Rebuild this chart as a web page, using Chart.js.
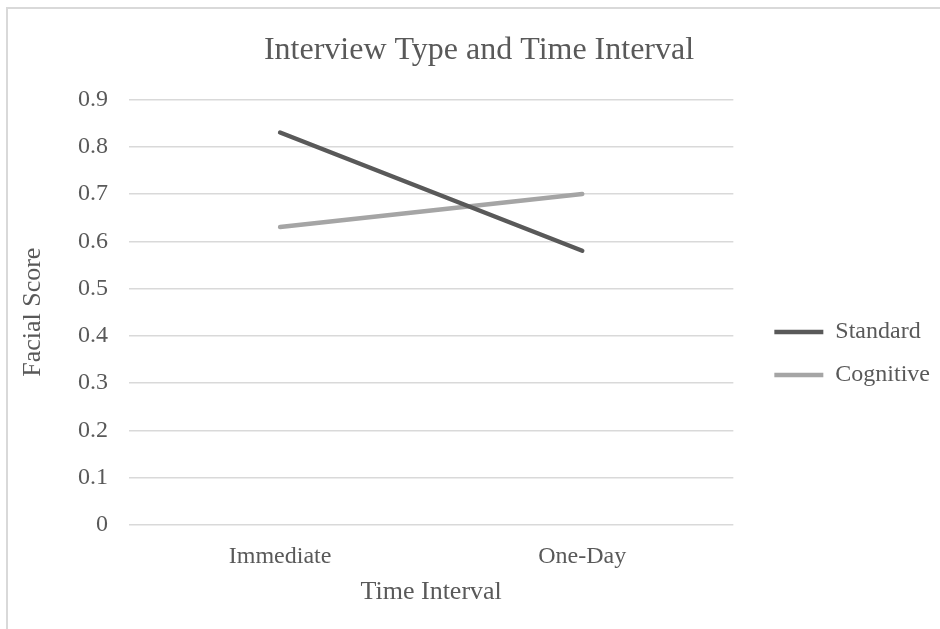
<!DOCTYPE html>
<html>
<head>
<meta charset="utf-8">
<script src="https://cdn.jsdelivr.net/npm/chart.js@4"></script>
<style>
  html, body { margin: 0; padding: 0; background: #fff; overflow: hidden; }
  #marco { position: absolute; left: 6px; top: 7px; width: 1000px; height: 700px;
           border-left: 2px solid #d9d9d9; border-top: 2px solid #d9d9d9; }
  #grafica { position: absolute; left: 8px; top: 8px; }
</style>
</head>
<body>
<div id="marco"></div>
<canvas id="grafica" width="942" height="691"></canvas>
<script>
// Datos
const intervalos = ['Immediate', 'One-Day'];
const estandar = [0.83, 0.58];
const cognitiva = [0.63, 0.70];

const gris = '#595959';
const fuente = 'Liberation Serif, Times New Roman, serif';

Chart.defaults.font.family = fuente;
Chart.defaults.color = gris;

const ctx = document.getElementById('grafica');

new Chart(ctx, {
  type: 'line',
  data: {
    labels: intervalos,
    datasets: [{
      label: 'Standard',
      data: estandar,
      borderColor: '#595959',
      backgroundColor: '#595959',
      borderWidth: 4.5,
      borderCapStyle: 'round',
      pointRadius: 0,
      yAxisID: 'y'
    },
    {
      label: 'Cognitive',
      data: cognitiva,
      borderColor: '#a5a5a5',
      backgroundColor: '#a5a5a5',
      borderWidth: 4.5,
      borderCapStyle: 'round',
      pointRadius: 0,
      yAxisID: 'y'
    }]
  },
  options: {
    responsive: false,
    animation: false,
    layout: { padding: { left: 10, right: 10, top: 0, bottom: 0 } },
    plugins: {
      title: {
        display: true,
        text: 'Interview Type and Time Interval',
        font: { size: 32, weight: 'normal' },
        color: gris,
        padding: { top: 23, bottom: 30 }
      },
      // espacio vacio abajo para que la leyenda quede centrada como en el original
      subtitle: {
        display: true,
        position: 'bottom',
        text: '',
        font: { size: 10 },
        padding: { top: 0, bottom: 75 }
      },
      legend: {
        position: 'right',
        maxWidth: 300,
        labels: {
          usePointStyle: true,
          pointStyle: 'line',
          pointStyleWidth: 49,
          padding: 19,
          font: { size: 24 },
          color: gris
        }
      },
      tooltip: { enabled: false }
    },
    scales: {
      x: {
        offset: true,
        grid: { display: false },
        border: { display: false },
        ticks: { font: { size: 24 }, padding: 9, color: gris },
        title: {
          display: true,
          text: 'Time Interval',
          font: { size: 26 },
          color: gris,
          padding: { top: 4, bottom: 4 }
        },
        afterFit: (s) => { s.height = 87; }
      },
      y: {
        min: 0,
        max: 0.9,
        grid: { color: '#d9d9d9', lineWidth: 1.5, drawTicks: false },
        border: { display: false },
        ticks: { stepSize: 0.1, font: { size: 24 }, padding: 21, color: gris },
        title: {
          display: true,
          text: 'Facial Score',
          font: { size: 26, lineHeight: 1.15 },
          color: gris,
          padding: 0
        },
        afterFit: (s) => { s.width = 111; }
      },
      // eje vacio para separar la leyenda del area de la grafica
      derecha: {
        position: 'right',
        display: true,
        grid: { display: false },
        border: { display: false },
        ticks: { display: false },
        afterFit: (s) => { s.width = 22; }
      }
    }
  }
});
</script>
</body>
</html>
